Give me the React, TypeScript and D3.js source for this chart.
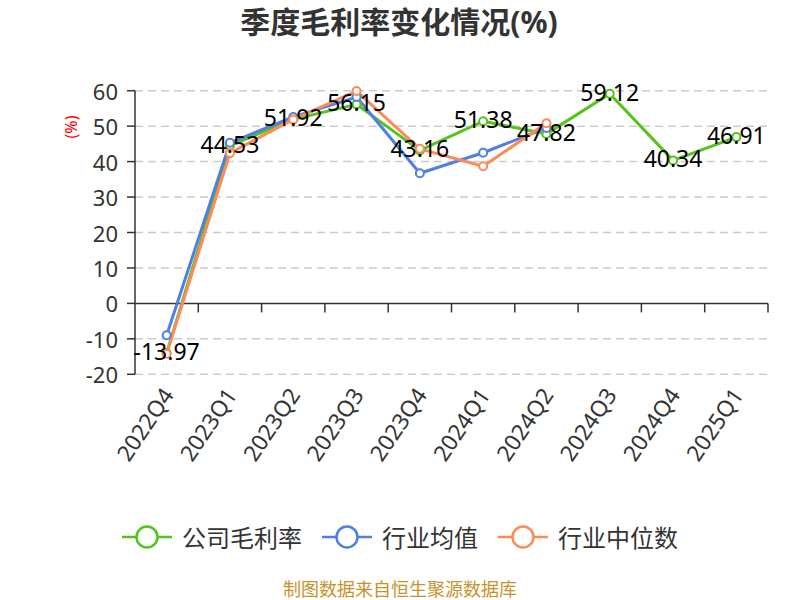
import React from "react";
import * as d3 from "d3";

const categories = ["2022Q4", "2023Q1", "2023Q2", "2023Q3", "2023Q4", "2024Q1", "2024Q2", "2024Q3", "2024Q4", "2025Q1"];
const companyMargin = [-13.97, 44.53, 51.92, 56.15, 43.16, 51.38, 47.82, 59.12, 40.34, 46.91];
const industryMean = [-9.0, 45.3, 52.6, 58.2, 36.7, 42.5, 49.5];
const industryMedian = [-14.2, 42.4, 51.9, 59.9, 43.6, 38.7, 50.8];
const yTicks = [-20, -10, 0, 10, 20, 30, 40, 50, 60];
const seriesNames = ["公司毛利率", "行业均值", "行业中位数"];
const seriesColors = ["#52C41A", "#4F7FE6", "#FF8A55"];

const W = 800;
const H = 600;
const left = 135;
const right = 768;
const top = 90.7;
const bottom = 374.3;

const font = "'Noto Sans', 'Noto Sans CJK SC', sans-serif";

export default function App() {
  const x = d3.scaleBand<string>().domain(categories).range([left, right]);
  const y = d3.scaleLinear().domain([-20, 60]).range([bottom, top]);
  const cx = (i: number) => (x(categories[i]) as number) + x.bandwidth() / 2;
  const line = d3
    .line<number>()
    .x((_, i) => cx(i))
    .y((d) => y(d));
  const series = [companyMargin, industryMean, industryMedian];
  const y0 = y(0);

  const legendFont = 24;
  const iconW = 50;
  const iconGap = 10;
  const itemGap = 20;
  const textW = seriesNames.map((n) => n.length * legendFont);
  const itemW = textW.map((t) => iconW + iconGap + t);
  const totalW = itemW.reduce((a, b) => a + b, 0) + itemGap * (seriesNames.length - 1);
  let acc = W / 2 - totalW / 2;
  const legendX = itemW.map((w) => {
    const s = acc;
    acc += w + itemGap;
    return s;
  });
  const ly = 537;

  return (
    <div style={{ position: "absolute", left: 0, top: 0 }}>
      <svg width={W} height={H} style={{ display: "block", background: "#fff" }} fontFamily={font}>
        <text x={399} y={33} textAnchor="middle" fontSize={30} fontWeight="bold" fill="#333">
          季度毛利率变化情况(%)
        </text>
        <text
          transform={`translate(71,127) rotate(-90)`}
          textAnchor="middle"
          dominantBaseline="central"
          fontSize={16}
          fill="#FF0000"
        >
          (%)
        </text>
        {yTicks
          .filter((t) => t !== 0)
          .map((t) => (
            <line
              key={t}
              x1={left}
              x2={right}
              y1={y(t)}
              y2={y(t)}
              stroke="#CCCCCC"
              strokeWidth={1.5}
              strokeDasharray="8,5"
            />
          ))}
        <line x1={left} x2={left} y1={top} y2={bottom} stroke="#333" strokeWidth={1.5} />
        {yTicks.map((t) => (
          <g key={t}>
            <line x1={left - 8} x2={left} y1={y(t)} y2={y(t)} stroke="#333" strokeWidth={1.5} />
            <text x={118} y={y(t)} textAnchor="end" dominantBaseline="central" fontSize={22} fill="#333">
              {t}
            </text>
          </g>
        ))}
        <line x1={left} x2={right} y1={y0} y2={y0} stroke="#333" strokeWidth={1.5} />
        {categories.map((c) => (
          <line
            key={c}
            x1={(x(c) as number) + x.bandwidth()}
            x2={(x(c) as number) + x.bandwidth()}
            y1={y0}
            y2={y0 + 9}
            stroke="#333"
            strokeWidth={1.5}
          />
        ))}
        {categories.map((c, i) => (
          <text
            key={c}
            transform={`translate(${cx(i) + 1},${bottom + 16}) rotate(-56)`}
            textAnchor="end"
            dominantBaseline="central"
            fontSize={22.5}
            fill="#333"
          >
            {c}
          </text>
        ))}
        {series.map((s, k) => (
          <path key={k} d={line(s) as string} fill="none" stroke={seriesColors[k]} strokeWidth={3} strokeLinejoin="round" />
        ))}
        {series.map((s, k) =>
          s.map((v, i) => (
            <circle key={`${k}-${i}`} cx={cx(i)} cy={y(v)} r={4} fill="#fff" stroke={seriesColors[k]} strokeWidth={2} />
          ))
        )}
        {companyMargin.map((v, i) => (
          <text key={i} x={cx(i)} y={y(v) - 2} textAnchor="middle" dominantBaseline="central" fontSize={23} fill="#000">
            {v.toFixed(2)}
          </text>
        ))}
        {seriesNames.map((n, k) => {
          const lx = legendX[k];
          return (
            <g key={n}>
              <line x1={lx} x2={lx + iconW} y1={ly} y2={ly} stroke={seriesColors[k]} strokeWidth={2.5} />
              <circle cx={lx + iconW / 2} cy={ly} r={10.5} fill="#fff" stroke={seriesColors[k]} strokeWidth={2.5} />
              <text x={lx + iconW + iconGap} y={ly} dominantBaseline="central" fontSize={legendFont} fill="#333">
                {n}
              </text>
            </g>
          );
        })}
        <text x={400} y={596} textAnchor="middle" fontSize={18} fill="#C8922A">
          制图数据来自恒生聚源数据库
        </text>
      </svg>
    </div>
  );
}
